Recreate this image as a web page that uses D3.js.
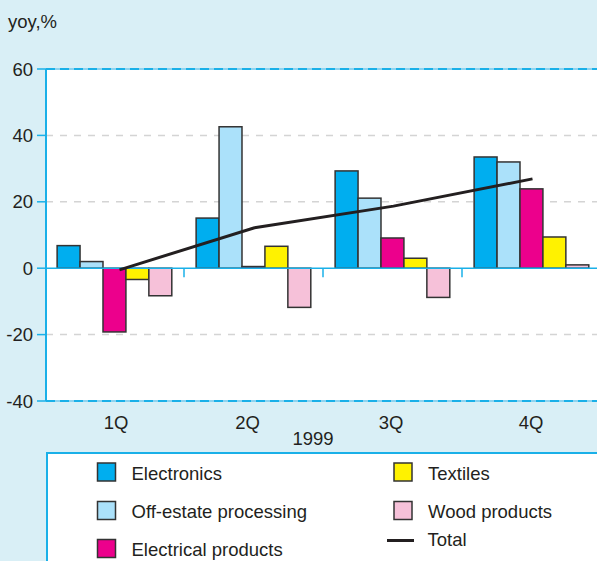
<!DOCTYPE html>
<html><head><meta charset="utf-8">
<script src="https://cdn.jsdelivr.net/npm/d3@7"></script>
<style>
html,body{margin:0;padding:0;background:#d9eff6;}
svg{display:block;font-family:"Liberation Sans",Arial,sans-serif;}
</style></head>
<body>
<svg id="c" width="597" height="561"></svg>
<script>
const quarters = ["1Q","2Q","3Q","4Q"];
const seriesNames = ["Electronics","Off-estate processing","Electrical products","Textiles","Wood products"];
const seriesColors = ["#00aeef","#abe1fa","#ec008c","#fff200","#f6c1d9"];
const electronics = [6.8, 15.1, 29.3, 33.5];
const offEstate = [2.0, 42.6, 21.1, 32.0];
const electrical = [-19.2, 0.5, 9.1, 23.9];
const textiles = [-3.4, 6.6, 3.0, 9.4];
const wood = [-8.3, -11.8, -8.8, 1.0];
const total = [-0.5, 12.2, 18.7, 26.9];
const yTicks = [60, 40, 20, 0, -20, -40];
const yearLabel = "1999";
const yTitle = "yoy,%";

const series = [electronics, offEstate, electrical, textiles, wood];

const svg = d3.select("#c");
const pL = 46, pR = 602, pT = 69, pB = 401;
const blue = "#1ab0e8", ink = "#231f20";
const fs = 18.5;

const y = d3.scaleLinear().domain([-40, 60]).range([pB, pT]);
const x = d3.scaleBand().domain(quarters).range([pL, pR]);
const bw = x.bandwidth();
const x1 = d3.scaleBand().domain(d3.range(series.length)).range([bw*0.08, bw*0.905]);

// plot area
svg.append("rect").attr("x", pL).attr("y", pT).attr("width", 597-pL).attr("height", pB-pT).attr("fill", "#fff");

// gridlines
yTicks.forEach(t => {
  if (t === 60 || t === -40) {
    svg.append("line").attr("x1", pL).attr("x2", 597).attr("y1", y(t)).attr("y2", y(t))
      .attr("stroke", "#8fd3ef").attr("stroke-width", 2);
    svg.append("line").attr("x1", pL).attr("x2", 597).attr("y1", y(t)).attr("y2", y(t))
      .attr("stroke", blue).attr("stroke-width", 2).attr("stroke-dasharray", "9,5");
  } else if (t !== 0) {
    svg.append("line").attr("x1", pL).attr("x2", 597).attr("y1", y(t)).attr("y2", y(t))
      .attr("stroke", "#d4d4d4").attr("stroke-width", 1.5).attr("stroke-dasharray", "7,7");
  }
});

// bars
series.forEach((vals, si) => {
  svg.append("g").selectAll("rect").data(vals).join("rect")
    .attr("x", (d, i) => x(quarters[i]) + x1(si))
    .attr("width", x1.bandwidth())
    .attr("y", d => y(Math.max(0, d)))
    .attr("height", d => Math.abs(y(d) - y(0)))
    .attr("fill", seriesColors[si])
    .attr("stroke", "#333").attr("stroke-width", 1.5);
});

// zero line
svg.append("line").attr("x1", pL).attr("x2", 597).attr("y1", y(0)).attr("y2", y(0))
  .attr("stroke", blue).attr("stroke-width", 1.5);
// category ticks
quarters.slice(1).forEach(q => {
  svg.append("line").attr("x1", x(q)-1).attr("x2", x(q)-1).attr("y1", y(0)).attr("y2", y(0)+9)
    .attr("stroke", blue).attr("stroke-width", 1.5);
});

// total line
const line = d3.line().x((d, i) => x(quarters[i]) + bw/2 + (i===0?4:0)).y(d => y(d));
svg.append("path").datum(total).attr("d", line).attr("fill", "none")
  .attr("stroke", ink).attr("stroke-width", 3);

// y axis
svg.append("line").attr("x1", pL).attr("x2", pL).attr("y1", pT).attr("y2", pB)
  .attr("stroke", blue).attr("stroke-width", 2);
yTicks.forEach(t => {
  svg.append("line").attr("x1", pL-9).attr("x2", pL).attr("y1", y(t)).attr("y2", y(t))
    .attr("stroke", blue).attr("stroke-width", 1.5);
  svg.append("text").attr("x", 33).attr("y", y(t)).attr("dy", "0.36em")
    .attr("text-anchor", "end").attr("font-size", fs).attr("fill", ink).text(t);
});
svg.append("text").attr("x", 8).attr("y", 28).attr("font-size", fs).attr("fill", ink).text(yTitle);

// x labels
const labelShift = [0.5, -7, -2.5, -1.5];
quarters.forEach((q, i) => {
  svg.append("text").attr("x", x(q) + bw/2 + labelShift[i]).attr("y", 428.5).attr("text-anchor", "middle")
    .attr("font-size", fs).attr("fill", ink).text(q);
});
svg.append("text").attr("x", 313).attr("y", 445).attr("text-anchor", "middle")
  .attr("font-size", fs).attr("fill", ink).text(yearLabel);

// legend
svg.append("rect").attr("x", 47).attr("y", 453).attr("width", 560).attr("height", 120)
  .attr("fill", "#fff").attr("stroke", blue).attr("stroke-width", 2);
const legendPos = [[97.5, 463], [97.5, 501.5], [97.5, 539.5], [394, 463], [394, 501.5]];
seriesNames.forEach((n, i) => {
  const [lx, ly] = legendPos[i];
  svg.append("rect").attr("x", lx).attr("y", ly).attr("width", 18).attr("height", 18)
    .attr("fill", seriesColors[i]).attr("stroke", "#333").attr("stroke-width", 1.5);
  svg.append("text").attr("x", lx + 34).attr("y", ly + 16.5)
    .attr("font-size", fs).attr("fill", ink).text(n);
});
svg.append("line").attr("x1", 387).attr("x2", 414).attr("y1", 540.5).attr("y2", 540.5)
  .attr("stroke", ink).attr("stroke-width", 3);
svg.append("text").attr("x", 427.5).attr("y", 545.5)
  .attr("font-size", fs).attr("fill", ink).text("Total");
</script>
</body></html>
